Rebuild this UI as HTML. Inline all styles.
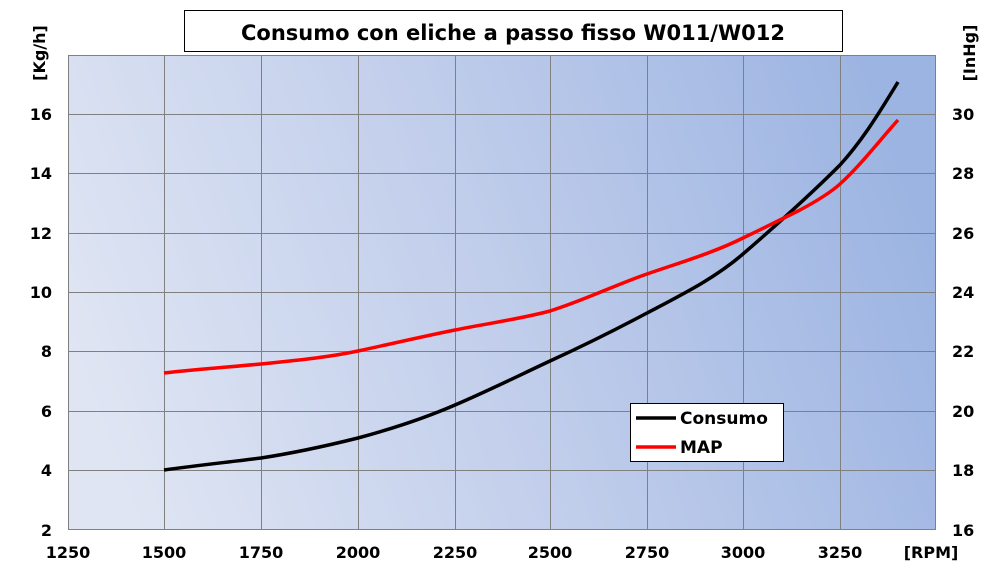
<!DOCTYPE html>
<html><head><meta charset="utf-8"><style>
html,body{margin:0;padding:0;background:#fff;}
body{width:1004px;height:572px;overflow:hidden;font-family:"DejaVu Sans","Liberation Sans",sans-serif;}
</style></head><body>
<svg width="1004" height="572" xmlns="http://www.w3.org/2000/svg">
<defs>
<linearGradient id="g" x1="0" y1="0.6" x2="1" y2="0.4">
<stop offset="0" stop-color="#dfe5f3"/>
<stop offset="0.5" stop-color="#c0cdeb"/>
<stop offset="1" stop-color="#9cb4e2"/>
</linearGradient>
</defs>
<rect x="68" y="55" width="868" height="475" fill="url(#g)"/>
<g stroke="#808080" stroke-width="1">
<line x1="164.5" y1="55" x2="164.5" y2="530"/>
<line x1="261.5" y1="55" x2="261.5" y2="530"/>
<line x1="358.5" y1="55" x2="358.5" y2="530"/>
<line x1="455.5" y1="55" x2="455.5" y2="530"/>
<line x1="550.5" y1="55" x2="550.5" y2="530"/>
<line x1="647.5" y1="55" x2="647.5" y2="530"/>
<line x1="743.5" y1="55" x2="743.5" y2="530"/>
<line x1="840.5" y1="55" x2="840.5" y2="530"/>
<line x1="68" y1="114.5" x2="936" y2="114.5"/>
<line x1="68" y1="173.5" x2="936" y2="173.5"/>
<line x1="68" y1="233.5" x2="936" y2="233.5"/>
<line x1="68" y1="292.5" x2="936" y2="292.5"/>
<line x1="68" y1="351.5" x2="936" y2="351.5"/>
<line x1="68" y1="411.5" x2="936" y2="411.5"/>
<line x1="68" y1="470.5" x2="936" y2="470.5"/>
</g>
<rect x="68.5" y="55.5" width="867" height="474" fill="none" stroke="#808080"/>
<path d="M164,470 C200,465 230,462 261,458 C300,452 330,445 358,438 C395,428 425,418 455,405 C490,390 520,375 550,361 C585,345 615,330 647,313 C685,293 715,278 743,254 C780,222 810,195 840,165 C860,143 875,120 898,82" fill="none" stroke="#000" stroke-width="3.5"/>
<path d="M164,373 C200,369 230,367 261,364 C300,360 330,357 358,351 C395,343 425,336 455,330 C490,323 520,319 550,311 C585,300 615,285 647,274 C685,261 715,252 743,238 C770,225 790,215 800,210 C815,202 830,193 840,184 C860,166 880,140 898,120" fill="none" stroke="#ff0000" stroke-width="3.5"/>
<rect x="184.5" y="10.5" width="658" height="41" fill="#fff" stroke="#000"/>
<text x="513" y="40" text-anchor="middle" font-size="21" font-weight="bold">Consumo con eliche a passo fisso W011/W012</text>
<rect x="630.5" y="403.5" width="153" height="58" fill="#fff" stroke="#000"/>
<line x1="636" y1="418" x2="676" y2="418" stroke="#000" stroke-width="3.5"/>
<line x1="636" y1="447" x2="676" y2="447" stroke="#f00" stroke-width="3.5"/>
<text x="680" y="424" font-size="17" font-weight="bold">Consumo</text>
<text x="680" y="453" font-size="17" font-weight="bold">MAP</text>
<g font-size="16" font-weight="bold" text-anchor="end">
<text x="52" y="120">16</text><text x="52" y="179">14</text><text x="52" y="239">12</text>
<text x="52" y="298">10</text><text x="52" y="357">8</text><text x="52" y="417">6</text>
<text x="52" y="476">4</text><text x="52" y="536">2</text>
</g>
<g font-size="16" font-weight="bold" text-anchor="start">
<text x="952" y="120">30</text><text x="952" y="179">28</text><text x="952" y="239">26</text>
<text x="952" y="298">24</text><text x="952" y="357">22</text><text x="952" y="417">20</text>
<text x="952" y="476">18</text><text x="952" y="536">16</text>
</g>
<g font-size="16" font-weight="bold" text-anchor="middle">
<text x="68" y="558">1250</text><text x="164" y="558">1500</text><text x="261" y="558">1750</text>
<text x="358" y="558">2000</text><text x="455" y="558">2250</text><text x="550" y="558">2500</text>
<text x="647" y="558">2750</text><text x="743" y="558">3000</text><text x="840" y="558">3250</text>
<text x="931" y="558">[RPM]</text>
</g>
<text transform="translate(45,53) rotate(-90)" font-size="16" font-weight="bold" text-anchor="middle">[Kg/h]</text>
<text transform="translate(975,53) rotate(-90)" font-size="16" font-weight="bold" text-anchor="middle">[InHg]</text>
</svg>
</body></html>
